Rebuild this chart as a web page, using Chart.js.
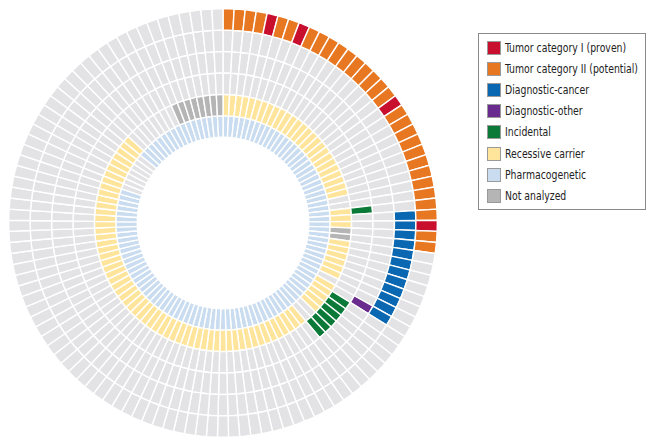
<!DOCTYPE html>
<html>
<head>
<meta charset="utf-8">
<script src="https://cdn.jsdelivr.net/npm/chart.js@4.4.1/dist/chart.umd.min.js"></script>
<style>
  html, body { margin: 0; padding: 0; background: #ffffff; }
  body { width: 654px; height: 447px; position: relative; overflow: hidden; }
  #wrap { position: absolute; left: 8px; top: 8px; width: 430px; height: 430px; }
  #legend {
    position: absolute; left: 478px; top: 33px; width: 166px; height: 175px;
    border: 1px solid #8a8a8a; box-sizing: content-box;
    font-family: "DejaVu Sans Condensed", "DejaVu Sans", sans-serif; font-stretch: condensed;
    font-size: 12.5px; color: #222222;
  }
  .item { position: absolute; left: 8px; height: 16px; line-height: 16px; white-space: nowrap; }
  .sw { position: absolute; left: 0; top: 1px; width: 14px; height: 14px; border: 1px solid #9a9a9a; box-sizing: border-box; }
  .lb { position: absolute; left: 18px; top: 0; display: inline-block; transform-origin: 0 50%; }
</style>
</head>
<body>
<div id="wrap"><canvas id="c" width="430" height="430"></canvas></div>
<div id="legend"></div>
<script>
// ---- Data (patient indices, clockwise from 12 o'clock) ----
const nPatients = 121;

const legendLabels = ["Tumor category I (proven)", "Tumor category II (potential)", "Diagnostic-cancer",
  "Diagnostic-other", "Incidental", "Recessive carrier", "Pharmacogenetic", "Not analyzed"];

const tumorCategoryI = [4, 7, 18, 30];
const tumorCategoryII = [0, 1, 2, 3, 5, 6, 8, 9, 10, 11, 12, 13, 14, 15, 16, 17, 19, 20, 21, 22, 23, 24,
  25, 26, 27, 28, 29, 31, 32];
const diagnosticCancer = [29, 30, 31, 32, 33, 34, 35, 36, 37, 38, 39, 40];
const diagnosticOther = [40];
const incidental = [28, 41, 42, 43, 44, 45, 46];
const recessiveCarrier = [0, 1, 2, 3, 4, 5, 6, 7, 8, 9, 10, 11, 12, 13, 14, 15, 16, 17, 18, 19, 20, 21, 22, 23,
  24, 25, 28, 29, 30, 33, 34, 35, 36, 37, 38, 40, 41, 42, 43, 44, 47, 48, 49, 50, 51, 52, 53, 54, 55, 56,
  57, 58, 59, 60, 61, 62, 63, 64, 65, 66, 67, 68, 69, 70, 71, 72, 73, 74, 75, 76, 77, 78, 79, 80, 81, 82,
  83, 84, 85, 86, 87, 88, 89, 90, 91, 92, 93, 94, 95, 96, 97, 98, 99, 100, 101, 102, 103, 104];
const recessiveNotAnalyzed = [31, 32, 113, 114, 115, 116, 117, 118, 119, 120];
const pharmacogeneticNone = [97, 98, 99, 100, 101, 102, 103];

// ---- Colours ----
const C = {
  catI: "#C8102E", catII: "#E87722", dxCancer: "#0A68B2", dxOther: "#6A2B8E",
  incidental: "#0B7A38", recessive: "#FFE59C", pharma: "#C9DCF0", notAnalyzed: "#B5B5B5", empty: "#E3E3E5"
};
const legendColors = [C.catI, C.catII, C.dxCancer, C.dxOther, C.incidental, C.recessive, C.pharma, C.notAnalyzed];

function ringColors(rules) {
  const out = [];
  for (let i = 0; i < nPatients; i++) {
    let col = C.empty;
    for (const [list, c] of rules) { if (list.includes(i)) { col = c; break; } }
    out.push(col);
  }
  return out;
}
const everyone = [];
for (let i = 0; i < nPatients; i++) everyone.push(i);
const pharmaList = everyone.filter(i => !pharmacogeneticNone.includes(i));

const rings = [
  ringColors([[tumorCategoryI, C.catI], [tumorCategoryII, C.catII]]),
  ringColors([[diagnosticCancer, C.dxCancer]]),
  ringColors([[diagnosticOther, C.dxOther]]),
  ringColors([[incidental, C.incidental]]),
  ringColors([[recessiveCarrier, C.recessive], [recessiveNotAnalyzed, C.notAnalyzed]]),
  ringColors([[pharmaList, C.pharma]])
];

const ones = everyone.map(() => 1);
const labels = everyone.map(i => "Patient " + (i + 1));

new Chart(document.getElementById("c"), {
  type: "doughnut",
  data: {
    labels: labels,
    datasets: rings.map(cols => ({
      data: ones, backgroundColor: cols, borderColor: "#ffffff", borderWidth: 1.4,
      hoverOffset: 0, borderAlign: "center"
    }))
  },
  options: {
    responsive: false,
    animation: false,
    cutout: "40%",
    layout: { padding: 0 },
    plugins: { legend: { display: false }, tooltip: { enabled: false } }
  }
});

// ---- Legend ----
const lg = document.getElementById("legend");
const spans = [];
legendLabels.forEach((t, k) => {
  const d = document.createElement("div");
  d.className = "item";
  d.style.top = (6 + k * 21.1) + "px";
  d.innerHTML = '<span class="sw" style="background:' + legendColors[k] + '"></span><span class="lb">' + t + '</span>';
  lg.appendChild(d);
  spans.push(d.querySelector(".lb"));
});
// fit the widest label ("Tumor category II (potential)") to its width in the reference
const widest = spans[1].getBoundingClientRect().width;
const s = Math.min(1, 133 / widest);
spans.forEach(sp => { sp.style.transform = "scaleX(" + s + ")"; });
</script>
</body>
</html>
